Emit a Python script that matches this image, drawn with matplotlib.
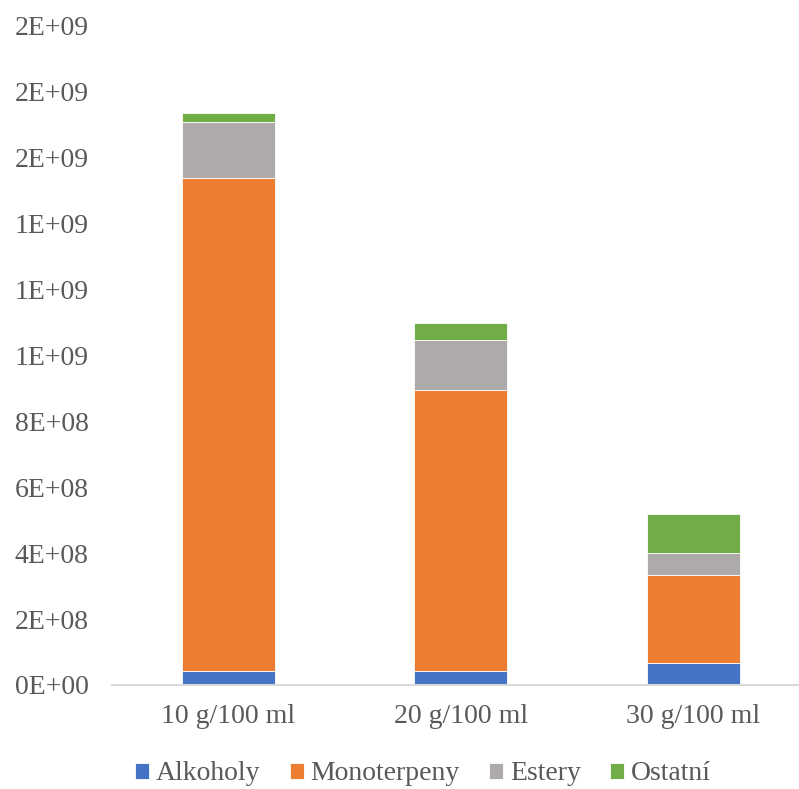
import matplotlib
matplotlib.use("Agg")
import matplotlib.pyplot as plt
from matplotlib.ticker import FuncFormatter, MultipleLocator
import numpy as np

categories = ["10 g/100 ml", "20 g/100 ml", "30 g/100 ml"]
series_names = ["Alkoholy", "Monoterpeny", "Estery", "Ostatní"]
alkoholy = [4.3e7, 4.2e7, 6.8e7]
monoterpeny = [1.495e9, 8.54e8, 2.67e8]
estery = [1.71e8, 1.52e8, 6.5e7]
ostatni = [2.7e7, 5.2e7, 1.18e8]
colors = ["#4472C4", "#ED7D31", "#AEAAAA", "#70AD47"]

plt.rcParams["font.family"] = ["Liberation Serif", "DejaVu Serif"]

fig = plt.figure(figsize=(7.99, 7.89), dpi=100)
W, H = 799, 789
ax = fig.add_axes([112 / W, 1 - 685 / H, 697.5 / W, 659 / H])

x = np.arange(len(categories))
bottom = np.zeros(len(categories))
for name, vals, c in zip(series_names, [alkoholy, monoterpeny, estery, ostatni], colors):
    ax.bar(x, vals, width=0.4, bottom=bottom, color=c, label=name,
           edgecolor="white", linewidth=0.6)
    bottom += np.array(vals)

ax.set_xlim(-0.5, 2.5)
ax.set_ylim(0, 2e9)
ax.yaxis.set_major_locator(MultipleLocator(2e8))
ax.yaxis.set_major_formatter(FuncFormatter(lambda v, p: f"{v:.0E}"))
ax.set_xticks(x)
ax.set_xticklabels(categories)

for s in ["top", "right", "left"]:
    ax.spines[s].set_visible(False)
ax.spines["bottom"].set_color("#D9D9D9")
ax.spines["bottom"].set_linewidth(1.5)
ax.tick_params(axis="both", length=0, labelsize=20, labelcolor="#595959")
ax.tick_params(axis="y", pad=17)
ax.tick_params(axis="x", pad=14)

fig.legend(loc="center", bbox_to_anchor=(423 / W, 1 - 774 / H), ncol=4,
           frameon=False, fontsize=20, labelcolor="#595959",
           handlelength=0.5, handleheight=0.5, handletextpad=0.25,
           columnspacing=1.05, borderaxespad=0)

fig.savefig("out.png", dpi=100)
